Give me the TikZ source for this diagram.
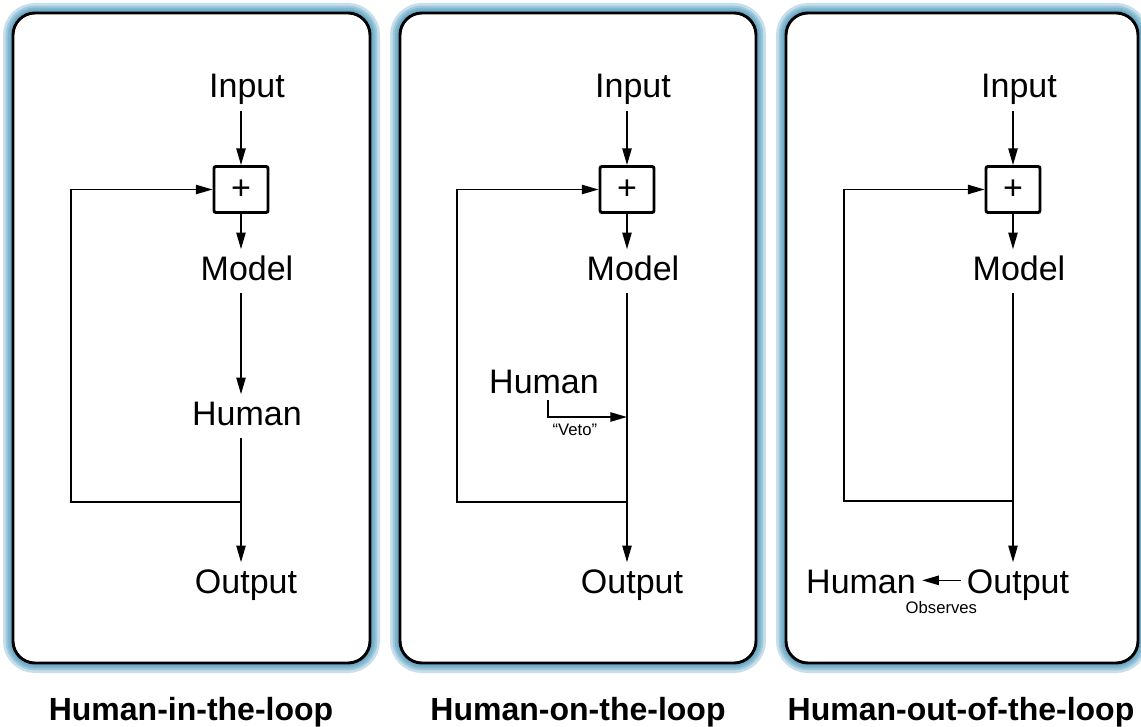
\documentclass[tikz,border=0pt]{standalone}
\usepackage{fontspec}
\setmainfont{Liberation Sans}
\usepackage{tikz}
\usetikzlibrary{positioning,arrows.meta}
\definecolor{glow}{RGB}{55,140,180}

\begin{document}
\begin{tikzpicture}[x=0.75pt,y=-0.75pt,
    lbl/.style={font=\fontsize{25.5}{30}\selectfont, text height=18.4pt, text depth=5.4pt, inner sep=4.5pt},
    small/.style={font=\fontsize{12.5}{15}\selectfont, inner sep=1pt},
    title/.style={font=\fontsize{24}{28}\selectfont\bfseries, inner sep=0pt},
    plusbox/.style={draw, line width=2.2pt, rounded corners=1.5pt, minimum width=40.5pt, minimum height=34.5pt, inner sep=0pt, font=\fontsize{25.5}{30}\selectfont},
    arr/.style={line width=1.1pt, -{Triangle[length=12.5pt,width=7pt]}},
    ln/.style={line width=1.1pt}]

    \useasboundingbox (0,0) rectangle (1141,727);

    % Define the panels
    \foreach \l/\r in {13/370, 400/756, 786/1138} {
        \foreach \w in {15pt,11pt,8pt,5pt}
            \draw[glow, opacity=0.28, line width=\w, rounded corners=16.5pt] (\l,13) rectangle (\r,663);
        \draw[fill=white, line width=2.2pt, rounded corners=16.5pt] (\l,13) rectangle (\r,663);
    }

    % Input, sum and model (same in every panel)
    \foreach \i/\c in {1/241, 2/627, 3/1013} {
        \node[plusbox] (plus\i) at (\c,189.5) {+};
        \node[lbl, anchor=base] (in\i) at (\c+6,98) {Input};
        \node[lbl, anchor=base] (model\i) at (\c+6,280) {Model};
        \node[lbl, anchor=base] (out\i) at (\c+5,593) {Output};
        \draw[arr] (in\i.south -| plus\i) -- (plus\i);
        \draw[arr] (plus\i) -- (model\i.north -| plus\i);
    }

    % Human-in-the-loop
    \node[lbl, anchor=base] (human1) at (247,425) {Human};
    \coordinate (join1) at (241,502);
    \coordinate (back1) at (71,502);
    \draw[arr] (model1.south -| plus1) -- (human1.north -| plus1);
    \draw[ln] (human1.south -| plus1) -- (join1);
    \draw[arr] (join1) -- (out1.north -| plus1);
    \draw[arr] (join1) -- (back1) |- (plus1);

    % Human-on-the-loop
    \node[lbl, anchor=base] (human2) at (544,393) {Human};
    \coordinate (veto2) at (627,417);
    \coordinate (join2) at (627,502);
    \coordinate (back2) at (457,502);
    \draw[ln] (model2.south -| plus2) -- (join2);
    \draw[arr] (join2) -- (out2.north -| plus2);
    \draw[arr] (join2) -- (back2) |- (plus2);
    \draw[arr] ([xshift=3pt,yshift=5pt]human2.south) |- (veto2)
        node[small, pos=0.67, below=4pt] {“Veto”};

    % Human-out-of-the-loop
    \node[lbl, anchor=base] (human3) at (861,593) {Human};
    \coordinate (join3) at (1013,501);
    \coordinate (back3) at (844,501);
    \draw[ln] (model3.south -| plus3) -- (join3);
    \draw[arr] (join3) -- (out3.north -| plus3);
    \draw[arr] (join3) -- (back3) |- (plus3);
    \draw[arr] ([yshift=3pt]out3.west) -- ([yshift=3pt]human3.east)
        node[small, midway, below=14pt] {Observes};

    % Titles
    \node[title, anchor=base] (title1) at (191,720) {Human-in-the-loop};
    \node[title, anchor=base] (title2) at (578,720) {Human-on-the-loop};
    \node[title, anchor=base] (title3) at (961,720) {Human-out-of-the-loop};
\end{tikzpicture}
\end{document}
